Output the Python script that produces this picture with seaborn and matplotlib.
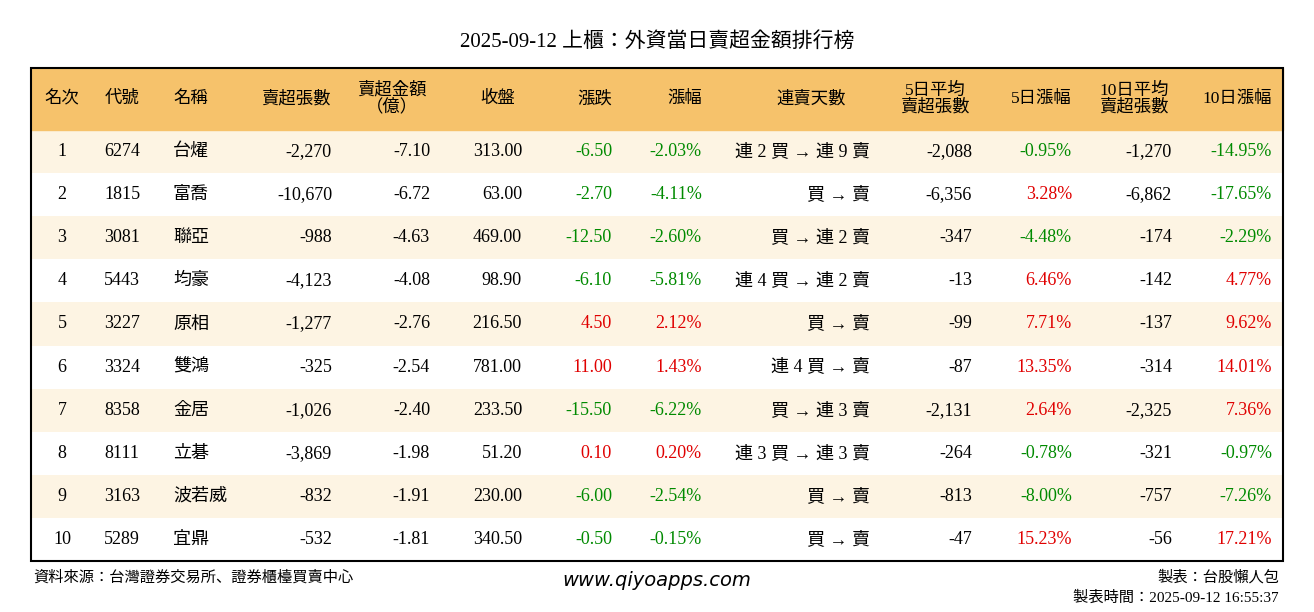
import matplotlib
matplotlib.use("Agg")
import matplotlib.pyplot as plt
from matplotlib.colors import ListedColormap
from matplotlib import font_manager
import numpy as np
import seaborn as sns

cjk = [f.name for f in font_manager.fontManager.ttflist if "CJK" in f.name]
cjk_name = next((n for n in ["Noto Sans CJK TC", "Noto Sans CJK JP", "Noto Sans CJK SC", "Noto Sans CJK KR"]
                 if n in cjk), cjk[0] if cjk else "DejaVu Sans")
plt.rcParams["font.family"] = ["Liberation Serif", cjk_name]

title = "2025-09-12 上櫃：外資當日賣超金額排行榜"
headers = ["名次", "代號", "名稱", "賣超張數", "賣超金額\n（億）", "收盤", "漲跌", "漲幅",
           "連賣天數", "5日平均\n賣超張數", "5日漲幅", "10日平均\n賣超張數", "10日漲幅"]

rank = [1, 2, 3, 4, 5, 6, 7, 8, 9, 10]
codes = ["6274", "1815", "3081", "5443", "3227", "3324", "8358", "8111", "3163", "5289"]
names = ["台燿", "富喬", "聯亞", "均豪", "原相", "雙鴻", "金居", "立碁", "波若威", "宜鼎"]
sell_vol = [-2270, -10670, -988, -4123, -1277, -325, -1026, -3869, -832, -532]
sell_amt = [-7.10, -6.72, -4.63, -4.08, -2.76, -2.54, -2.40, -1.98, -1.91, -1.81]
close = [313.00, 63.00, 469.00, 98.90, 216.50, 781.00, 233.50, 51.20, 230.00, 340.50]
change = [-6.50, -2.70, -12.50, -6.10, 4.50, 11.00, -15.50, 0.10, -6.00, -0.50]
change_pct = [-2.03, -4.11, -2.60, -5.81, 2.12, 1.43, -6.22, 0.20, -2.54, -0.15]
streak = ["連 2 買 → 連 9 賣", "買 → 賣", "買 → 連 2 賣", "連 4 買 → 連 2 賣", "買 → 賣",
          "連 4 買 → 賣", "買 → 連 3 賣", "連 3 買 → 連 3 賣", "買 → 賣", "買 → 賣"]
avg5 = [-2088, -6356, -347, -13, -99, -87, -2131, -264, -813, -47]
pct5 = [-0.95, 3.28, -4.48, 6.46, 7.71, 13.35, 2.64, -0.78, -8.00, 15.23]
avg10 = [-1270, -6862, -174, -142, -137, -314, -2325, -321, -757, -56]
pct10 = [-14.95, -17.65, -2.29, 4.77, 9.62, 14.01, 7.36, -0.97, -7.26, 17.21]

W, H = 1314, 612
fig = plt.figure(figsize=(W / 100, H / 100), dpi=100)

# table frame in pixels
L, R, T_head, T_body, B = 31, 1283, 68, 130, 561

def fig_rect(x0, y0, x1, y1):
    return [x0 / W, 1 - y1 / H, (x1 - x0) / W, (y1 - y0) / H]

# striped body via seaborn heatmap
body = fig.add_axes(fig_rect(L, T_body, R, B))
stripes = np.array([[i % 2] for i in range(len(rank))])
sns.heatmap(stripes, ax=body, cmap=ListedColormap(["#FDF4E3", "#FFFFFF"]),
            cbar=False, xticklabels=False, yticklabels=False, linewidths=0)

# overlay in pixel coordinates
ax = fig.add_axes([0, 0, 1, 1])
ax.set_xlim(0, W)
ax.set_ylim(H, 0)
ax.axis("off")
ax.patch.set_alpha(0)
ax.add_patch(plt.Rectangle((L, T_head), R - L, T_body - T_head, color="#F6C26B", zorder=0))
ax.add_patch(plt.Rectangle((L, T_head), R - L, B - T_head, fill=False, ec="black", lw=1.5, zorder=3))

ax.text(W / 2, 42, title, ha="center", va="center", fontsize=15)

col_x = [62, 122, 173, 332, 430, 522, 612, 702, 870, 972, 1072, 1172, 1272]
col_ha = ["center", "center", "left"] + ["right"] * 10
head_x = [62, 122, 173, 331, 392, 498, 612, 702, 811, 935, 1072, 1134, 1272]
head_ha = ["center", "center", "left", "right", "center", "center", "right", "right",
           "center", "center", "right", "center", "right"]
for h, x, ha in zip(headers, head_x, head_ha):
    ax.text(x, 99, h, ha=ha, va="center", fontsize=12.5, linespacing=1.0, multialignment="center")

GREEN, RED = "#008A00", "#E00000"
def col(v):
    return GREEN if v < 0 else RED

row_h = (B - T_body) / len(rank)
for i in range(len(rank)):
    y = T_body + row_h * (i + 0.5)
    cells = [
        (str(rank[i]), "black"), (codes[i], "black"), (names[i], "black"),
        (f"{sell_vol[i]:,}", "black"), (f"{sell_amt[i]:.2f}", "black"),
        (f"{close[i]:.2f}", "black"), (f"{change[i]:.2f}", col(change[i])),
        (f"{change_pct[i]:.2f}%", col(change_pct[i])), (streak[i], "black"),
        (f"{avg5[i]:,}", "black"), (f"{pct5[i]:.2f}%", col(pct5[i])),
        (f"{avg10[i]:,}", "black"), (f"{pct10[i]:.2f}%", col(pct10[i])),
    ]
    for (txt, c), x, ha in zip(cells, col_x, col_ha):
        ax.text(x, y, txt, ha=ha, va="center", fontsize=13, color=c)

ax.text(33, 577, "資料來源：台灣證券交易所、證券櫃檯買賣中心", ha="left", va="center", fontsize=11)
ax.text(657, 580, "www.qiyoapps.com", ha="center", va="center", fontsize=14,
        style="italic", family="DejaVu Sans")
ax.text(1279, 577, "製表：台股懶人包", ha="right", va="center", fontsize=11)
ax.text(1279, 598, "製表時間：2025-09-12 16:55:37", ha="right", va="center", fontsize=11)

fig.savefig("out.png", dpi=100)
